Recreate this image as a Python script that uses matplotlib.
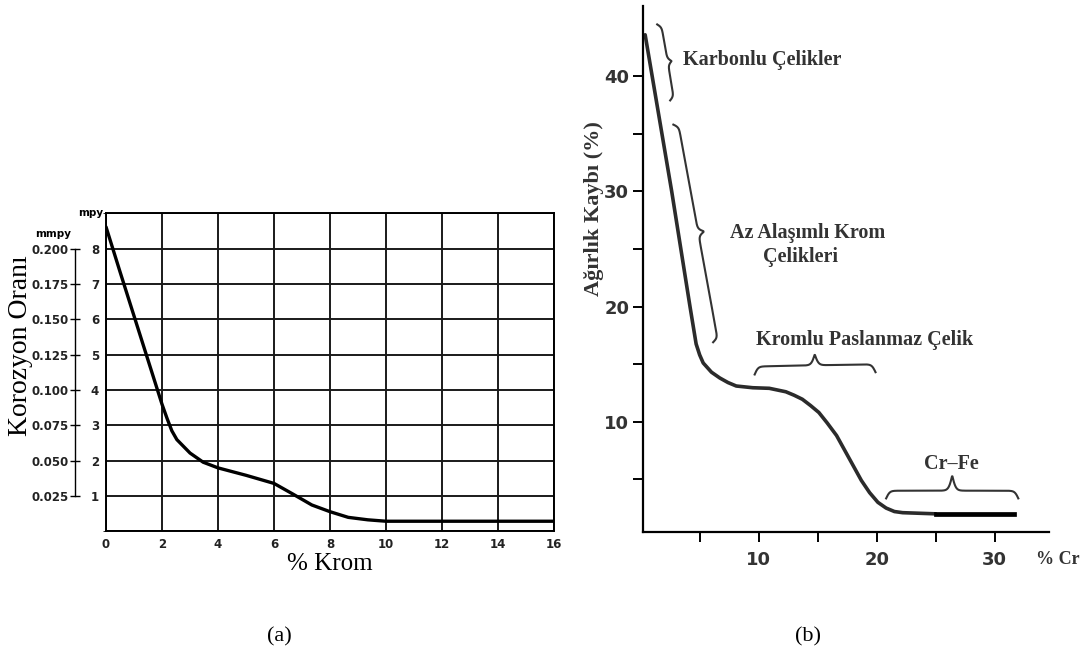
import numpy as np
import matplotlib
matplotlib.use('Agg')
import matplotlib.pyplot as plt

# (a) corrosion rate vs % chromium (mpy)
krom = [0, 0.5, 1.0, 1.5, 2.0, 2.18, 2.35, 2.53, 3.0, 3.47, 4.0, 5.0, 6.0, 6.65,
        7.35, 8.0, 8.65, 9.35, 10.0, 12, 14, 16]
mpy = [8.62, 7.35, 6.1, 4.85, 3.6, 3.2, 2.85, 2.6, 2.22, 1.96, 1.80, 1.59, 1.36, 1.07,
       0.75, 0.56, 0.40, 0.33, 0.29, 0.29, 0.29, 0.29]
mpy_ticks = [1, 2, 3, 4, 5, 6, 7, 8]
mmpy_labels = ['0.025', '0.050', '0.075', '0.100', '0.125', '0.150', '0.175', '0.200']

# (b) weight loss vs % Cr
cr = [0.38, 2.63, 4.18, 4.7, 5.0, 5.3, 6.0, 6.7, 7.4, 8.1, 9.5, 10.9, 12.3, 13.0,
      13.7, 14.4, 15.1, 15.8, 16.6, 17.3, 18.0, 18.7, 19.4, 20.1, 20.8, 21.5, 22.2, 25.0]
loss = [43.6, 30.0, 20.0, 16.75, 15.8, 15.1, 14.3, 13.8, 13.4, 13.1, 12.95, 12.9, 12.6, 12.3,
        11.95, 11.4, 10.8, 9.9, 8.8, 7.5, 6.2, 4.9, 3.84, 3.0, 2.5, 2.2, 2.1, 2.0]
cr_tail = [25.0, 31.6]
loss_tail = [2.0, 2.0]

# braces: start, end, side, plateau offset px, tip offset px
braces = [
    ((1.4, 44.5), (2.5, 37.9), 1, 4, 8),
    ((2.77, 35.8), (6.14, 16.9), 1, 5, 11),
    ((9.66, 14.1), (19.9, 14.3), 1, 8, 19),
    ((20.8, 3.34), (32.0, 3.34), 1, 7.7, 23),
]
labels_b = [
    ('Karbonlu \u00c7elikler', 3.6, 41.4, 'left'),
    ('Az Ala\u015f\u0131ml\u0131 Krom', 7.6, 26.4, 'left'),
    ('\u00c7elikleri', 10.4, 24.3, 'left'),
    ('Kromlu Paslanmaz \u00c7elik', 9.8, 17.1, 'left'),
    ('Cr\u2013Fe', 26.3, 6.3, 'center'),
]

fig = plt.figure(figsize=(10.84, 6.59), dpi=100)

# ---- panel (a)
ax = fig.add_axes([0.0978, 0.1935, 0.4133, 0.4826])
ax.plot(krom, mpy, color='black', lw=2.4, solid_capstyle='round', solid_joinstyle='round')
ax.set_xlim(0, 16)
ax.set_ylim(0, 9)
ax.set_xticks(range(0, 17, 2))
ax.set_yticks(mpy_ticks)
ax.set_yticks(range(0, 10), minor=True)
ax.grid(True, which='both', color='#1a1a1a', lw=1.4)
ax.grid(False, axis='x', which='minor')
for s in ax.spines.values():
    s.set_linewidth(1.4)
ax.tick_params(axis='both', length=0, labelsize=8.5, pad=5)
for lab in ax.get_xticklabels() + ax.get_yticklabels():
    lab.set_fontweight('bold')
    lab.set_color('#222222')
ax.set_xlabel('% Krom', family='Liberation Serif', fontsize=18, labelpad=1)
ax.text(-0.007, 1.0, 'mpy', transform=ax.transAxes, fontsize=7.5, fontweight='bold',
        ha='right', va='center')

ax2 = ax.twinx()
ax2.set_ylim(0, 9)
ax2.yaxis.set_ticks_position('left')
ax2.yaxis.set_label_position('left')
ax2.spines['left'].set_position(('axes', -0.069))
ax2.spines['left'].set_bounds(1, 8)
ax2.spines['left'].set_linewidth(1.0)
for k in ['right', 'top', 'bottom']:
    ax2.spines[k].set_visible(False)
ax2.set_yticks(mpy_ticks)
ax2.set_yticklabels(mmpy_labels)
ax2.tick_params(axis='y', direction='inout', length=7, width=1.0, labelsize=8.5, pad=1)
for lab in ax2.get_yticklabels():
    lab.set_fontweight('bold')
    lab.set_color('#222222')
ax2.text(-0.078, 0.935, 'mmpy', transform=ax.transAxes, fontsize=7.5, fontweight='bold',
         ha='right', va='center')
fig.text(0.019, 1 - 346 / 659, 'Korozyon Oran\u0131', family='Liberation Serif', fontsize=20,
         rotation=90, ha='center', va='center')

# ---- panel (b)
bx = fig.add_axes([0.5932, 0.1932, 0.3745, 0.7977])
bx.plot(cr, loss, color='#2b2b2b', lw=2.6, solid_capstyle='round', solid_joinstyle='round')
bx.plot(cr_tail, loss_tail, color='black', lw=3.4)
bx.set_xlim(0.2, 34.6)
bx.set_ylim(0.45, 46.1)
for k in ['right', 'top']:
    bx.spines[k].set_visible(False)
for k in ['left', 'bottom']:
    bx.spines[k].set_linewidth(1.6)
bx.set_xticks([10, 20, 30])
bx.set_xticks([5, 15, 25], minor=True)
bx.set_yticks([10, 20, 30, 40])
bx.set_yticks([5, 15, 25, 35], minor=True)
bx.tick_params(which='both', direction='out', length=7, width=1.4, labelsize=13, pad=3)
bx.tick_params(axis='x', pad=7)
for lab in bx.get_xticklabels() + bx.get_yticklabels():
    lab.set_fontweight('bold')
    lab.set_color('#333333')
bx.set_ylabel('A\u011f\u0131rl\u0131k Kayb\u0131 (%)', family='Liberation Serif', fontsize=16,
              fontweight='bold', color='#333333')
bx.yaxis.set_label_coords(-0.095, 0.615)
bx.text(33.5, -2.0, '% Cr', family='Liberation Serif', fontsize=13, fontweight='bold',
        color='#333333', ha='left', va='center', clip_on=False)


def brace(axis, p0, p1, side, plat, tip, k=1.8, n=300):
    tr = axis.transData
    a = np.array(tr.transform(p0))
    b = np.array(tr.transform(p1))
    d = b - a
    L = np.hypot(*d)
    u = d / L
    nrm = np.array([-u[1], u[0]]) * side
    s = np.linspace(0, L, n)
    h = np.minimum(s, L - s)
    f1 = 2 * (1 / (1 + np.exp(-h / k)) - 0.5)
    f2 = 1 / (1 + np.exp(-(h - L / 2) / k)) * 2
    off = plat * f1 + (tip - plat) * f2
    pts = a + np.outer(s, u) + np.outer(off, nrm)
    pts = tr.inverted().transform(pts)
    axis.plot(pts[:, 0], pts[:, 1], color='#333333', lw=1.5, clip_on=False)


for p0, p1, side, plat, tip in braces:
    brace(bx, p0, p1, side, plat, tip)
for txt, x, y, ha in labels_b:
    bx.text(x, y, txt, family='Liberation Serif', fontsize=14.5, fontweight='bold',
            color='#333333', ha=ha, va='center')

fig.text(279 / 1084, 1 - 637 / 659, '(a)', family='Liberation Serif', fontsize=16,
         ha='center', va='center')
fig.text(808 / 1084, 1 - 637 / 659, '(b)', family='Liberation Serif', fontsize=16,
         ha='center', va='center')

fig.savefig('out.png', dpi=100)
